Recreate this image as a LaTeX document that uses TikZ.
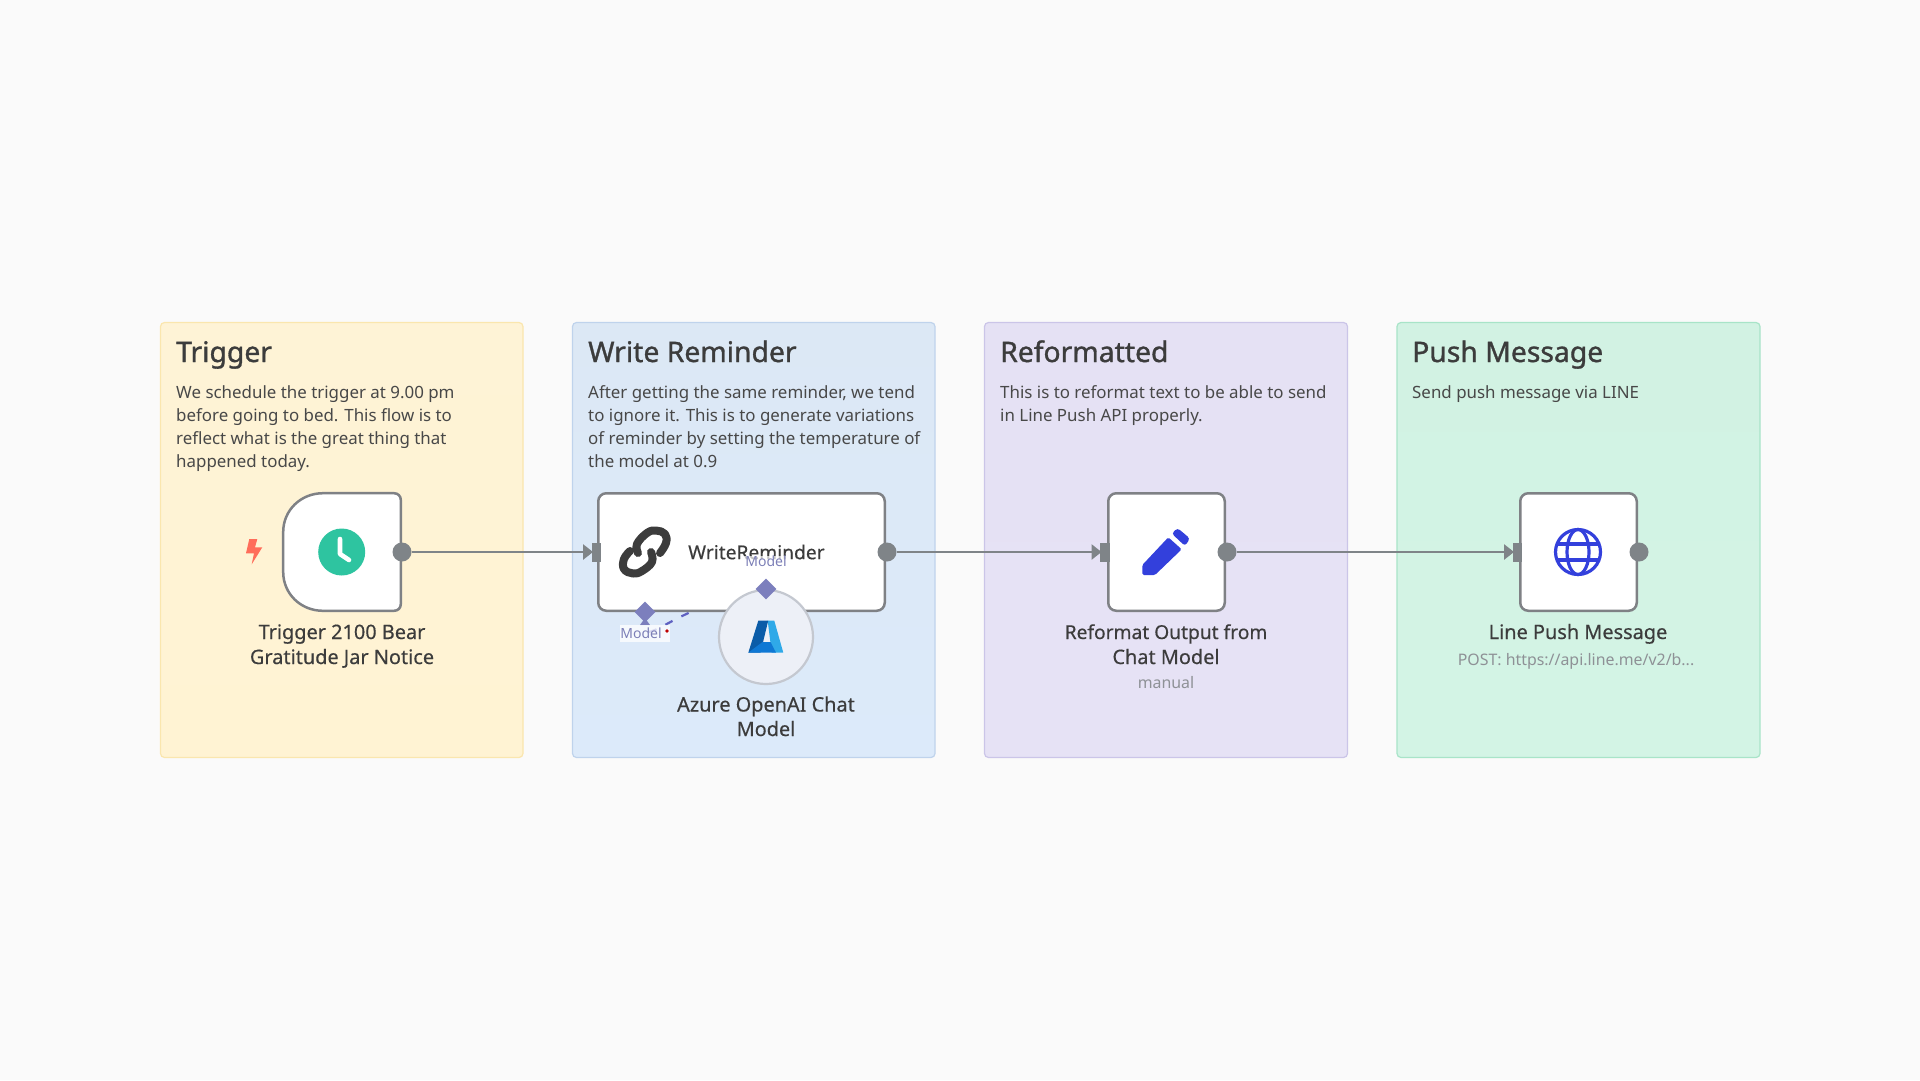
\documentclass[tikz,border=0pt]{standalone}
\usepackage{fontspec}
\setmainfont{Noto Sans}
\newfontfamily\medfont[FakeBold=0.4]{Noto Sans}
\newfontfamily\headfont[FakeBold=1.1]{Noto Sans}
\usetikzlibrary{arrows.meta,shapes.geometric,positioning}
\definecolor{bgc}{HTML}{FAFAFA}
\definecolor{ink}{HTML}{3C3C3C}
\definecolor{bodyink}{HTML}{484848}
\definecolor{sub}{HTML}{8E9196}
\definecolor{wire}{HTML}{7F8488}
\definecolor{nodeedge}{HTML}{7F8185}
\definecolor{slate}{HTML}{7C7FBD}
\definecolor{ytop}{HTML}{FEF3D6}\definecolor{ybot}{HTML}{FFF3D3}\definecolor{yedge}{HTML}{FAE6AE}
\definecolor{btop}{HTML}{DCE8F5}\definecolor{bbot}{HTML}{DCEAFA}\definecolor{bedge}{HTML}{BFD3EC}
\definecolor{ptop}{HTML}{E5E1F4}\definecolor{pbot}{HTML}{E6E2F5}\definecolor{pedge}{HTML}{CBC5E8}
\definecolor{gtop}{HTML}{D2F2E3}\definecolor{gbot}{HTML}{D3F4E5}\definecolor{gedge}{HTML}{A8E4C8}
\definecolor{blueicon}{HTML}{3340DC}
\tikzset{
 x=1pt,y=-1pt,
 panelbox/.style={draw=#1edge,top color=#1top,bottom color=#1bot,line width=1.2pt,rounded corners=4pt},
 headtext/.style={anchor=base west,inner sep=0,font=\headfont\fontsize{28.3}{30}\selectfont,text=ink},
 bodytext/.style={anchor=base west,inner sep=0,font=\fontsize{16.9}{23}\selectfont,text=bodyink},
 nodelabel/.style={anchor=base,inner sep=0,font=\medfont\fontsize{19.9}{24}\selectfont,text=ink},
 sublabel/.style={anchor=base,inner sep=0,font=\fontsize{15.9}{20}\selectfont,text=sub},
 modellabel/.style={anchor=center,inner sep=0,font=\fontsize{14}{16}\selectfont,text=slate!90!gray},
 flownode/.style={draw=nodeedge,fill=white,line width=2.5pt,rounded corners=8pt},
 outport/.style={circle,fill=wire,draw=none,minimum size=19pt,inner sep=0},
 inport/.style={rectangle,fill=wire,draw=none,minimum width=9.5pt,minimum height=19pt,inner sep=0},
 diam/.style={diamond,fill=slate,draw=none,minimum size=21pt,inner sep=0},
 wireline/.style={draw=wire,line width=2.6pt,shorten >=-1.5pt,-{Triangle[length=10pt,width=15pt]}},
}
\begin{document}
\begin{tikzpicture}
\useasboundingbox[fill=bgc] (0,0) rectangle (1920,1080);
% panels
\draw[panelbox=y] (160.5,322.5) rectangle (523,757.5);
\draw[panelbox=b] (572.5,322.5) rectangle (935,757.5);
\draw[panelbox=p] (984.5,322.5) rectangle (1347.5,757.5);
\draw[panelbox=g] (1397,322.5) rectangle (1760,757.5);
% headings
\node[headtext] (h1) at (176,362) {Trigger};
\node[headtext] (h2) at (588,362) {Write Reminder};
\node[headtext] (h3) at (1000,362) {Reformatted};
\node[headtext] (h4) at (1412,362) {Push Message};
% body
\node[bodytext] (t1a) at (176,398) {We schedule the trigger at 9.00 pm};
\node[bodytext] (t1b) at (176,421) {before going to bed. This flow is to};
\node[bodytext] (t1c) at (176,444) {reflect what is the great thing that};
\node[bodytext] (t1d) at (176,467) {happened today.};
\node[bodytext] (t2a) at (588,398) {After getting the same reminder, we tend};
\node[bodytext] (t2b) at (588,421) {to ignore it. This is to generate variations};
\node[bodytext] (t2c) at (588,444) {of reminder by setting the temperature of};
\node[bodytext] (t2d) at (588,467) {the model at 0.9};
\node[bodytext] (t3a) at (1000,398) {This is to reformat text to be able to send};
\node[bodytext] (t3b) at (1000,421) {in Line Push API properly.};
\node[bodytext] (t4a) at (1412,398) {Send push message via LINE};
% dashed model link (under the node)
\coordinate (modelfoot) at (645,632);
\coordinate (azuretop) at (766,589);
\draw[draw=slate!70!blue!80!gray,line width=2.2pt,dash pattern=on 8pt off 10pt,dash phase=14pt] (modelfoot) .. controls (660,634) and (680,606) .. (azuretop);
% nodes
\draw[flownode,rounded corners=0pt] (283.2,532) .. controls (283.2,510) and (301,493.2) .. (323,493.2) -- (394,493.2) .. controls (398,493.2) and (400.8,496) .. (400.8,500) -- (400.8,604) .. controls (400.8,608) and (398,610.8) .. (394,610.8) -- (323,610.8) .. controls (301,610.8) and (283.2,594) .. (283.2,572) -- cycle;
\node[flownode,minimum width=286.5pt,minimum height=117.5pt,inner sep=0] (write) at (741.5,552) {};
\node[flownode,minimum width=116.5pt,minimum height=117.5pt,inner sep=0] (fmt) at (1166.5,552) {};
\node[flownode,minimum width=116.5pt,minimum height=117.5pt,inner sep=0] (push) at (1578.5,552) {};
% icons
\fill[fill={rgb,255:red,46;green,196;blue,160}] (341.7,552) circle (23.5);
\draw[white,line width=4.6pt,line cap=round,line join=round] (340,539) -- (340,554) -- (349,560);
\fill[fill={rgb,255:red,255;green,109;blue,90}] (249.3,539) -- (257.3,539) -- (255,547.3) -- (262.3,547.3) -- (251.7,564.3) -- (254,553.3) -- (246,553.3) -- cycle;
\begin{scope}[line width=8pt,line cap=round,line join=round]
\draw[ink] plot[smooth,tension=0.7] coordinates {(660,553) (666,543) (665,534) (656,530.5) (647,533) (637,544) (638,553)};
\draw[ink] plot[smooth,tension=0.7] coordinates {(630,551) (624,559) (624,569) (633,573.5) (642,571) (652,562) (651,552)};
\end{scope}
\fill[blueicon,rounded corners=1.5pt] (1142.3,565) -- (1168.3,537.3) -- (1181.7,549.3) -- (1155,575) -- (1142.3,575) -- cycle;
\fill[blueicon,rounded corners=3pt] (1171.7,533.5) -- (1177.5,528) -- (1190,538.5) -- (1185,546) -- cycle;
\begin{scope}[blueicon,line width=3.2pt]
\draw (1578,552) circle (22.5);
\draw (1578,552) ellipse (11 and 22.5);
\draw (1556,544) -- (1600,544);
\draw (1556,560) -- (1600,560);
\end{scope}
% azure circle
\draw[draw={rgb,255:red,196;green,200;blue,208},fill={rgb,255:red,237;green,240;blue,247},line width=2.2pt] (766,637) circle (47);
\fill[fill={rgb,255:red,47;green,169;blue,232}] (767.7,620.7) -- (774.3,620.7) -- (783.3,652.7) -- (771.7,652.7) -- cycle;
\fill[fill={rgb,255:red,11;green,92;blue,168}] (748.3,652.7) -- (758.3,620.7) -- (768.2,620.7) -- (760.5,652.7) -- cycle;
\fill[fill={rgb,255:red,15;green,120;blue,212}] (762.5,642) -- (770.5,642) -- (776,652.7) -- (748.3,652.7) -- cycle;
% ports
\node[outport] (o1) at (402,552) {};
\node[inport] (i2) at (596.5,552) {};
\node[outport] (o2) at (887,552) {};
\node[inport] (i3) at (1105,552) {};
\node[outport] (o3) at (1227,552) {};
\node[inport] (i4) at (1517.5,552) {};
\node[outport] (o4) at (1639,552) {};
\draw[wireline] (o1) -- (i2);
\draw[wireline] (o2) -- (i3);
\draw[wireline] (o3) -- (i4);
% labels
\node[anchor=west,inner sep=0,font=\medfont\fontsize{19.2}{24}\selectfont,text=ink] (lw) at (688,552) {WriteReminder};
% model handles
\fill[slate] (640,625) -- (645,618) -- (650,625) -- cycle;
\node[diam] (d1) at (645,612) {};
\node[diam] (d2) at (766,589) {};
\fill[white,opacity=0.75] (620,625) rectangle (670,642);
\node[modellabel] (m1) at (641,633.5) {Model};
\fill[red!75!black] (667,631) circle (1.8);
\node[modellabel,fill=white,fill opacity=0.7,text opacity=1,inner xsep=1pt,inner ysep=0pt] (m2) at (766,561.5) {Model};
\node[nodelabel] (l1a) at (342,639) {Trigger 2100 Bear};
\node[nodelabel] (l1b) at (342,664) {Gratitude Jar Notice};
\node[nodelabel] (l2a) at (766,711.5) {Azure OpenAI Chat};
\node[nodelabel] (l2b) at (766,736) {Model};
\node[nodelabel,font=\medfont\fontsize{19.2}{24}\selectfont] (l3a) at (1166,639) {Reformat Output from};
\node[nodelabel] (l3b) at (1166,664) {Chat Model};
\node[sublabel] (l3c) at (1166,688) {manual};
\node[nodelabel] (l4a) at (1578,639) {Line Push Message};
\node[sublabel] (l4b) at (1576,665) {POST: https://api.line.me/v2/b...};
\end{tikzpicture}
\end{document}
